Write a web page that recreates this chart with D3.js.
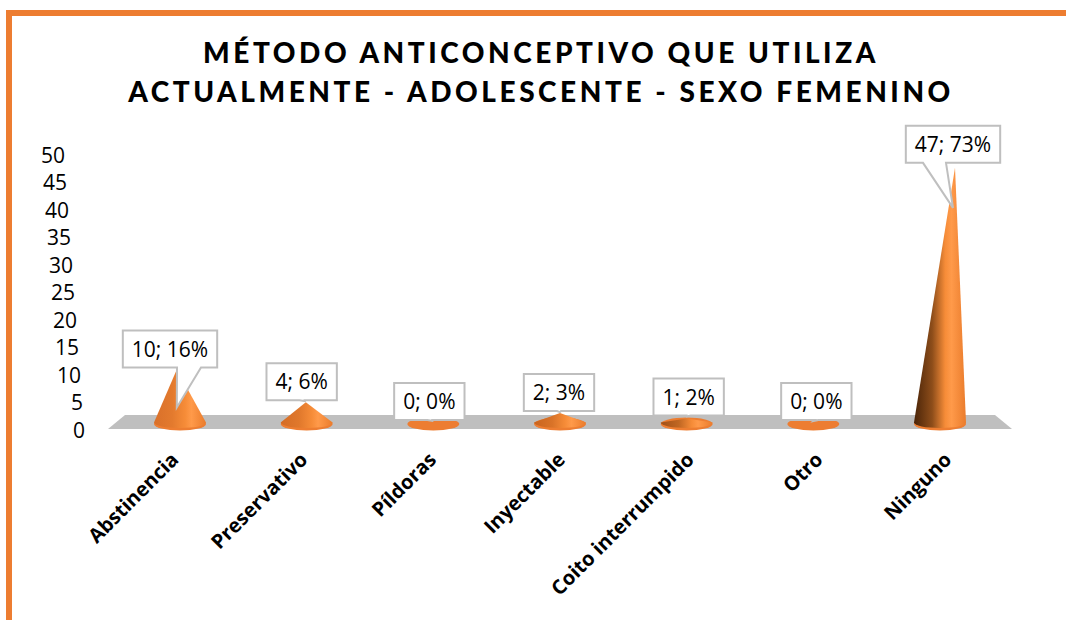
<!DOCTYPE html>
<html><head><meta charset="utf-8">
<script src="https://cdn.jsdelivr.net/npm/d3@7/dist/d3.min.js"></script>
<style>html,body{margin:0;background:#fff}svg{display:block}text{font-family:"Open Sans",Lato,sans-serif;fill:#000}</style>
</head><body><svg id="c" width="1066" height="620"></svg>
<script>
const titleLines = ["MÉTODO ANTICONCEPTIVO QUE UTILIZA","ACTUALMENTE - ADOLESCENTE - SEXO FEMENINO"];
const categories = ["Abstinencia","Preservativo","Píldoras","Inyectable","Coito interrumpido","Otro","Ninguno"];
const values = [10,4,0,2,1,0,47];
const percents = [16,6,0,3,2,0,73];
const yTicks = [0,5,10,15,20,25,30,35,40,45,50];
// callout layout: box centre offset from the cone, gap above apex, pointer depth below box
const calloutDx = [-10,-5,-4,-1,2,3,13];
const calloutGap = [2,2,4,2,3,4,5];
const calloutTip = [40,1,1,1,1,1,45];
const calloutBase = [[7,31],[-2,2],[-2,2],[-2,2],[-2,2],[-2,2],[-30,-7]];

const svg = d3.select("#c");
const defs = svg.append("defs");

svg.append("path").attr("d","M9,620V13H1066").attr("fill","none").attr("stroke","#ED7D31").attr("stroke-width",6);

titleLines.forEach((t,i)=>svg.append("text").attr("x",541).attr("y",[63,102][i]).attr("text-anchor","middle")
  .style("font-family","Lato").attr("font-size",28).attr("font-weight",900).attr("letter-spacing",3.55).text(t));

const x = d3.scalePoint().domain(categories).range([180,940]);
const y = d3.scaleLinear().domain([0,50]).range([424,151.5]);
const axisY = d3.scaleLinear().domain([0,50]).range([430,155]);

svg.append("path").attr("d","M108,429L125,415H995L1012,429Z").attr("fill","#BFBFBF");

svg.selectAll(".yt").data(yTicks).join("text").attr("class","yt")
  .attr("x",d=>85-d*0.4).attr("y",d=>axisY(d)+7.5).attr("text-anchor","end").attr("font-size",21).text(d=>d);

const rx=26, ry=6.5, cy=423.5, mid=560;
const shade=d3.scaleLinear().domain([180,560,940]).range(["#d9702a","#c9641f","#4a2408"]);
const apexX=(i)=>x(categories[i])+(x(categories[i])-mid)*values[i]*0.00084;
categories.forEach((c,i)=>{
  const cx=x(c), v=values[i], ax=apexX(i), ay=y(v);
  const grad=defs.append("linearGradient").attr("id","cone"+i);
  [[0,shade(cx)],[0.35,d3.interpolateRgb(shade(cx),"#f28a35")(0.4)],[0.6,"#f68c38"],[0.72,"#ff9a4a"],[1,"#ea7c2c"]]
    .forEach(d=>grad.append("stop").attr("offset",d[0]).attr("stop-color",d[1]));
  const g=svg.append("g");
  g.append("ellipse").attr("cx",cx).attr("cy",cy+0.5).attr("rx",rx).attr("ry",ry).attr("fill","#ED7D31");
  if(v>0) g.append("path").attr("d",`M${cx-rx},${cy-1}L${ax},${ay}L${cx+rx},${cy-1}A${rx},${ry-1} 0 0 1 ${cx-rx},${cy-1}Z`).attr("fill",`url(#cone${i})`);
});
categories.forEach((c,i)=>{
  const label=`${values[i]}; ${percents[i]}%`;
  const t=svg.append("text").attr("font-size",21).attr("text-anchor","middle").text(label);
  const w=t.node().getComputedTextLength()+18, h=37;
  const cxb=x(c)+calloutDx[i], bottom=y(values[i])-calloutGap[i], top=bottom-h;
  const l=cxb-w/2, r=cxb+w/2;
  const bx=calloutBase[i];
  const tipX=apexX(i)-(i===6?2:0);
  const tipY=bottom+calloutTip[i];
  const p=`M${l},${top}H${r}V${bottom}H${cxb+bx[1]}L${tipX},${tipY}L${cxb+bx[0]},${bottom}H${l}Z`;
  svg.append("path").attr("d",p).attr("fill","#fff").attr("stroke","#BFBFBF").attr("stroke-width",2);
  t.attr("x",cxb).attr("y",top+26).raise();
});
categories.forEach((c,i)=>{
  const cx=x(c);
  svg.append("text").attr("transform",`translate(${cx-5.5+(cx-mid)*0.017},${449}) rotate(-45)`)
    .attr("text-anchor","end").attr("dominant-baseline","hanging").attr("font-size",20).attr("font-weight",700).text(c);
});
</script></body></html>
